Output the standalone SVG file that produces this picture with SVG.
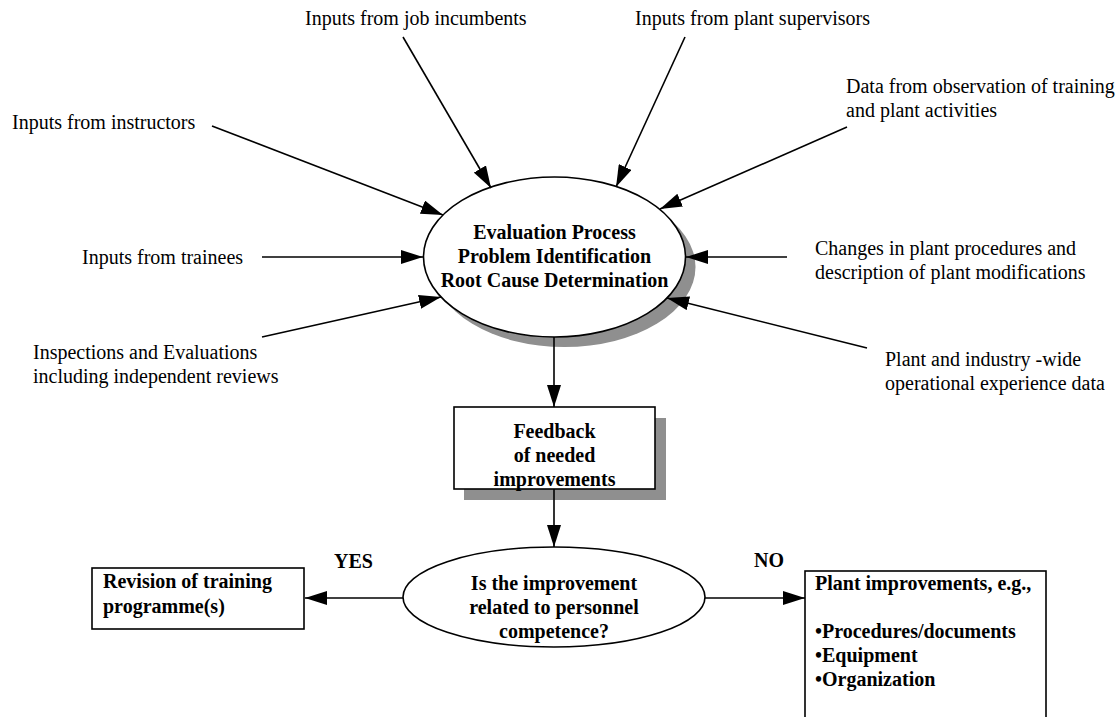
<svg xmlns="http://www.w3.org/2000/svg" width="1119" height="717" viewBox="0 0 1119 717">
<style>
.lbl{font-family:"Liberation Serif","Times New Roman",serif;font-size:20px;fill:#000}
.b{font-family:"Liberation Serif","Times New Roman",serif;font-size:20px;font-weight:bold;fill:#000}
.c{text-anchor:middle}
.shape{fill:#fff;stroke:#000;stroke-width:1.6}
.shadow{fill:#8f8f8f;stroke:none}
.conn line{stroke:#000;stroke-width:1.6;marker-end:url(#ah)}
</style>
<defs>
<marker id="ah" viewBox="0 0 22 14" refX="22" refY="7" markerWidth="22" markerHeight="14" markerUnits="userSpaceOnUse" orient="auto">
<path d="M0,0 L22,7 L0,14 z" fill="#000"/>
</marker>
</defs>
<rect width="1119" height="717" fill="#fff"/>

<g id="n-eval">
<ellipse class="shadow" cx="564.5" cy="267" rx="131" ry="80"/>
<ellipse class="shape" cx="554.5" cy="257" rx="131" ry="80"/>
<text class="b c" x="554.5" y="239">Evaluation Process</text>
<text class="b c" x="554.5" y="263">Problem Identification</text>
<text class="b c" x="554.5" y="287">Root Cause Determination</text>
</g>

<g id="n-feedback">
<rect class="shadow" x="464" y="418" width="202" height="82"/>
<rect class="shape" x="454" y="407" width="201" height="82"/>
<text class="b c" x="554.5" y="438">Feedback</text>
<text class="b c" x="554.5" y="462">of needed</text>
<text class="b c" x="554.5" y="486">improvements</text>
</g>

<g id="n-question">
<ellipse class="shape" cx="554" cy="597" rx="151" ry="50"/>
<text class="b c" x="554" y="590">Is the improvement</text>
<text class="b c" x="554" y="614">related to personnel</text>
<text class="b c" x="554" y="638">competence?</text>
</g>

<g id="n-revision">
<rect class="shape" x="92" y="568" width="212" height="61"/>
<text class="b" x="103" y="588">Revision of training</text>
<text class="b" x="103" y="613">programme(s)</text>
</g>

<g id="n-plant">
<rect class="shape" x="805" y="571" width="241" height="160"/>
<text class="b" x="815" y="590">Plant improvements, e.g.,</text>
<text class="b" x="815" y="638">•Procedures/documents</text>
<text class="b" x="815" y="662">•Equipment</text>
<text class="b" x="815" y="686">•Organization</text>
</g>

<g id="src-incumbents"><text class="lbl" x="305" y="25">Inputs from job incumbents</text></g>
<g id="src-supervisors"><text class="lbl" x="635" y="25">Inputs from plant supervisors</text></g>
<g id="src-observation">
<text class="lbl" x="846" y="93">Data from observation of training</text>
<text class="lbl" x="846" y="117">and plant activities</text>
</g>
<g id="src-instructors"><text class="lbl" x="12" y="129">Inputs from instructors</text></g>
<g id="src-trainees"><text class="lbl" x="82" y="264">Inputs from trainees</text></g>
<g id="src-changes">
<text class="lbl" x="815" y="255">Changes in plant procedures and</text>
<text class="lbl" x="815" y="279">description of plant modifications</text>
</g>
<g id="src-inspections">
<text class="lbl" x="33" y="359">Inspections and Evaluations</text>
<text class="lbl" x="33" y="383">including independent reviews</text>
</g>
<g id="src-experience">
<text class="lbl" x="885" y="366">Plant and industry -wide</text>
<text class="lbl" x="885" y="390">operational experience data</text>
</g>

<g id="labels">
<text class="b" x="334" y="568">YES</text>
<text class="b" x="754" y="567">NO</text>
</g>

<g id="connectors" class="conn">
<line x1="403" y1="37" x2="491" y2="188"/>
<line x1="685" y1="37" x2="616" y2="187"/>
<line x1="847" y1="127" x2="660" y2="209"/>
<line x1="212" y1="126" x2="443" y2="215"/>
<line x1="262" y1="257" x2="423" y2="257"/>
<line x1="787" y1="257" x2="686" y2="257"/>
<line x1="262" y1="337" x2="441" y2="297"/>
<line x1="867" y1="348" x2="667" y2="298"/>
<line x1="554" y1="337" x2="554" y2="407"/>
<line x1="554" y1="489" x2="554" y2="547"/>
<line x1="403" y1="598" x2="305" y2="598"/>
<line x1="705" y1="598" x2="805" y2="598"/>
</g>
</svg>
